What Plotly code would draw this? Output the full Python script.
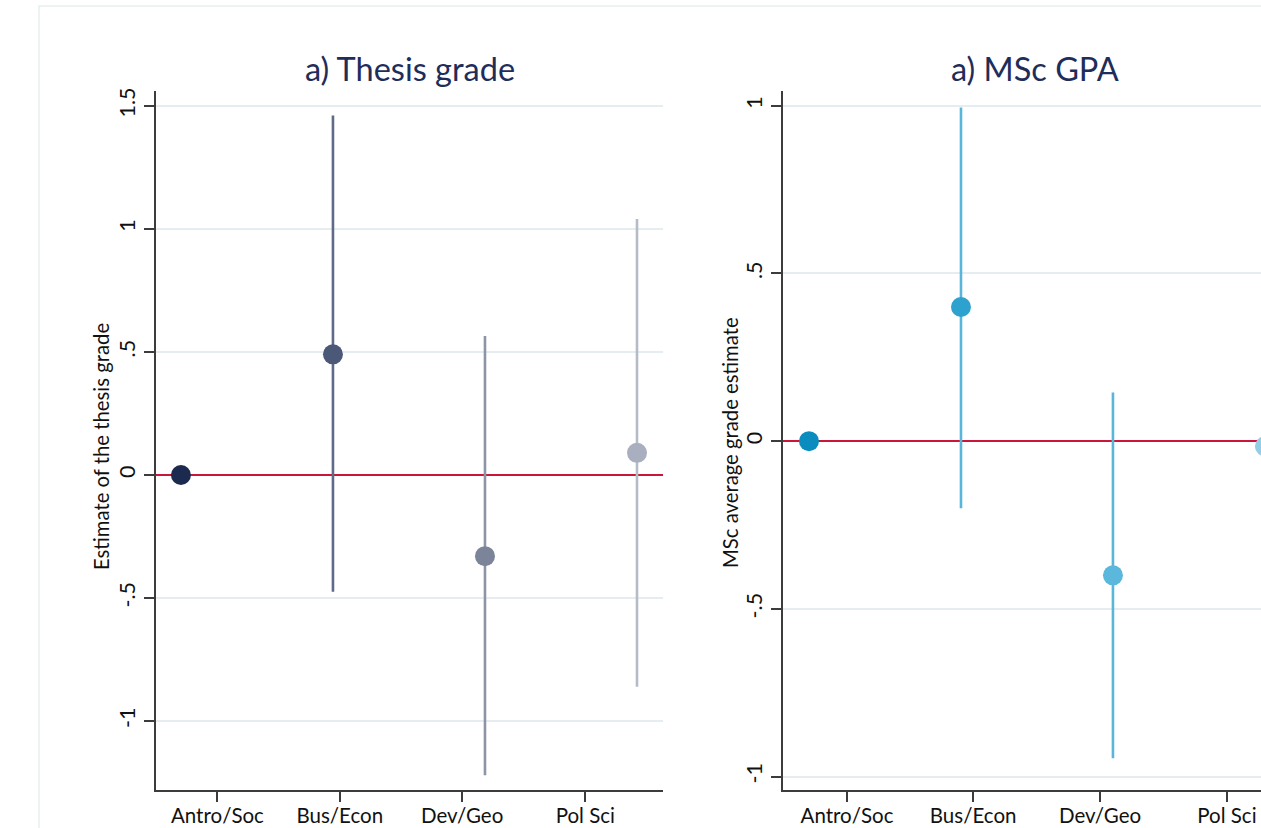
import plotly.graph_objects as go

# Department categories and their plotting positions
categories = ["Antro/Soc", "Bus/Econ", "Dev/Geo", "Pol Sci"]
positions = [1, 2, 3, 4]

# Panel a) Thesis grade: point estimates and 95% confidence bounds
thesis_est = [0.0, 0.49, -0.33, 0.09]
thesis_lo = [None, -0.475, -1.22, -0.86]
thesis_hi = [None, 1.46, 0.565, 1.04]

# Panel a) MSc GPA: point estimates and 95% confidence bounds
gpa_est = [0.0, 0.40, -0.40, -0.015]
gpa_lo = [None, -0.20, -0.945, -0.55]
gpa_hi = [None, 0.995, 0.145, 0.52]

# Y tick values / labels
thesis_yticks = [-1, -0.5, 0, 0.5, 1, 1.5]
thesis_ylabels = ["-1", "-.5", "0", ".5", "1", "1.5"]
gpa_yticks = [-1, -0.5, 0, 0.5, 1]
gpa_ylabels = ["-1", "-.5", "0", ".5", "1"]

# X tick label positions
thesis_xticks = [1.24, 2.045, 2.85, 3.66]
gpa_xticks = [1.25, 2.08, 2.915, 3.75]

W, H = 1261, 828

thesis_marker = ["#1b2a4e", "#4b5878", "#7b8499", "#a9afbf"]
thesis_ci = ["#1b2a4e", "#5e6a86", "#8c94a8", "#b6bbc8"]
gpa_marker = ["#0a8cbf", "#2ea2cf", "#5cb7dc", "#93cde6"]
gpa_ci = ["#0a8cbf", "#5ab5da", "#5ab5da", "#93cde6"]

FONT = "Lato, Open Sans, sans-serif"

fig = go.Figure()


def add_panel(est, lo, hi, mcol, lcol, xa, ya):
    for i in range(len(categories)):
        if lo[i] is not None:
            fig.add_trace(go.Scatter(
                x=[positions[i], positions[i]], y=[lo[i], hi[i]],
                mode="lines", line=dict(color=lcol[i], width=2.6),
                xaxis=xa, yaxis=ya, showlegend=False, hoverinfo="skip"))
    for i in range(len(categories)):
        fig.add_trace(go.Scatter(
            x=[positions[i]], y=[est[i]], mode="markers",
            marker=dict(color=mcol[i], size=20, line=dict(width=0)),
            name=categories[i], xaxis=xa, yaxis=ya, showlegend=False))


add_panel(thesis_est, thesis_lo, thesis_hi, thesis_marker, thesis_ci, "x", "y")
add_panel(gpa_est, gpa_lo, gpa_hi, gpa_marker, gpa_ci, "x2", "y2")

y_top = 1 - 91 / H
y_bot = 1 - 790 / H

axis_line = dict(showline=True, linecolor="#3c3c3c", linewidth=2,
                 ticks="outside", ticklen=10, tickwidth=2, tickcolor="#3c3c3c",
                 automargin=False, fixedrange=True)
x_font = dict(family=FONT, size=20.5, color="#111111")
y_font = dict(family=FONT, size=21.5, color="#111111")

fig.update_layout(
    width=W, height=H,
    margin=dict(l=0, r=0, t=0, b=0),
    paper_bgcolor="white", plot_bgcolor="white",
    xaxis=dict(domain=[156 / W, 663 / W], range=[0.836, 4.171],
               tickvals=thesis_xticks, ticktext=categories, tickfont=x_font,
               ticklabelstandoff=-4,
               showgrid=False, zeroline=False, anchor="y", **axis_line),
    yaxis=dict(domain=[y_bot, y_top], range=[-1.28, 1.56],
               tickvals=thesis_yticks, ticktext=thesis_ylabels, tickangle=-90,
               tickfont=y_font,
               showgrid=True, gridcolor="#e6edf0", gridwidth=1.5,
               zeroline=True, zerolinecolor="#c8163c", zerolinewidth=2,
               anchor="x", **axis_line),
    xaxis2=dict(domain=[783 / W, 1.0], range=[0.829, 3.974],
                tickvals=gpa_xticks, ticktext=categories, tickfont=x_font,
                ticklabelstandoff=-4,
                showgrid=False, zeroline=False, anchor="y2", **axis_line),
    yaxis2=dict(domain=[y_bot, y_top], range=[-1.04, 1.044],
                tickvals=gpa_yticks, ticktext=gpa_ylabels, tickangle=-90,
                tickfont=y_font,
                showgrid=True, gridcolor="#e6edf0", gridwidth=1.5,
                zeroline=True, zerolinecolor="#c8163c", zerolinewidth=2,
                anchor="x2", **axis_line),
    shapes=[dict(type="rect", xref="paper", yref="paper",
                 x0=39 / W, x1=1.05, y0=-0.05, y1=1 - 6 / H,
                 line=dict(color="#e8eef0", width=1.5), layer="below")],
    annotations=[
        dict(text="a) Thesis grade", x=409.5 / W, y=1 - 68 / H,
             xref="paper", yref="paper", showarrow=False,
             xanchor="center", yanchor="middle",
             font=dict(family=FONT, size=32.5, color="#1f2d5a")),
        dict(text="a) MSc GPA", x=1035 / W, y=1 - 68 / H,
             xref="paper", yref="paper", showarrow=False,
             xanchor="center", yanchor="middle",
             font=dict(family=FONT, size=32.5, color="#1f2d5a")),
        dict(text="Estimate of the thesis grade", x=101 / W, y=1 - 447 / H,
             xref="paper", yref="paper", showarrow=False, textangle=-90,
             xanchor="center", yanchor="middle",
             font=dict(family=FONT, size=20.3, color="#111111")),
        dict(text="MSc average grade estimate", x=730 / W, y=1 - 443 / H,
             xref="paper", yref="paper", showarrow=False, textangle=-90,
             xanchor="center", yanchor="middle",
             font=dict(family=FONT, size=20.3, color="#111111")),
    ],
)

fig.write_html("out.html", config={"displayModeBar": False})
